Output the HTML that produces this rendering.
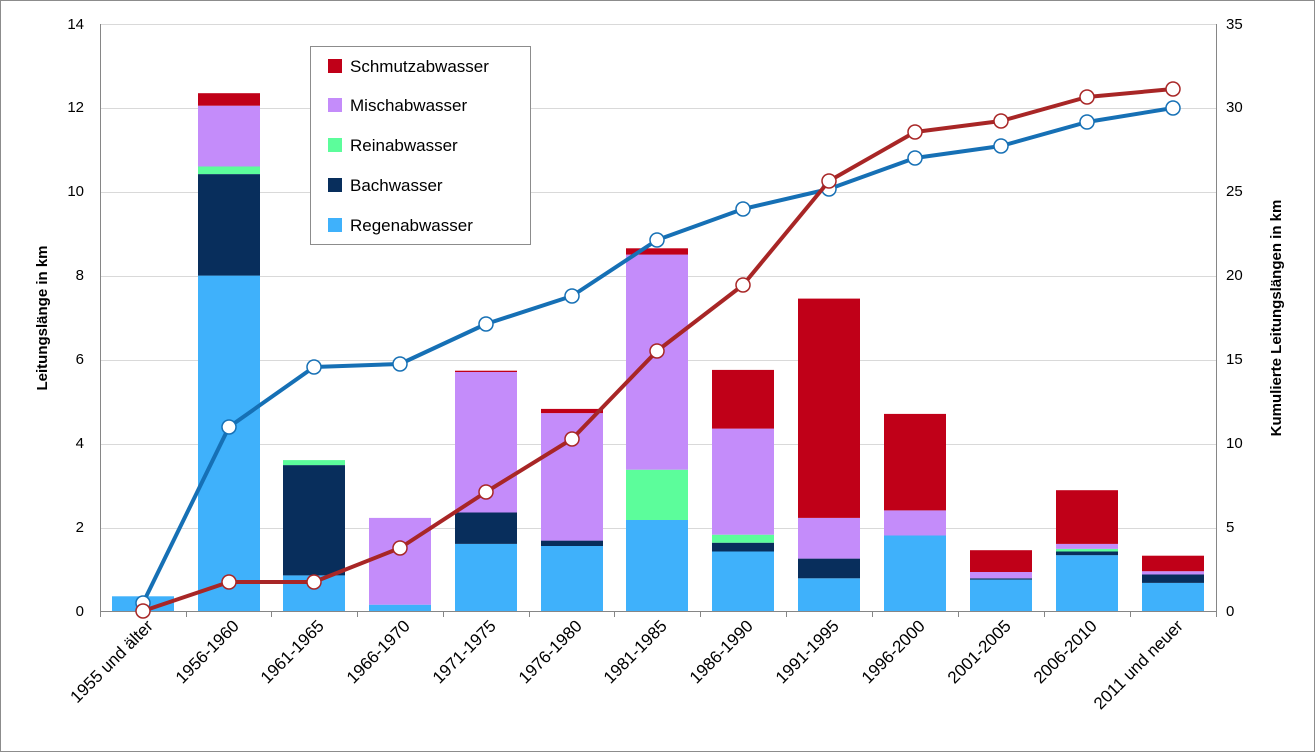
<!DOCTYPE html>
<html><head><meta charset="utf-8"><style>
html,body{margin:0;padding:0;background:#fff}
svg{display:block;font-family:"Liberation Sans",Arial,sans-serif}
</style></head><body>
<svg width="1315" height="752" viewBox="0 0 1315 752" xmlns="http://www.w3.org/2000/svg">
<rect x="0.5" y="0.5" width="1314" height="751" fill="#fff" stroke="#8c8c8c"/>
<g stroke="#d9d9d9" stroke-width="1">
<line x1="100" x2="1216" y1="24.5" y2="24.5"/>
<line x1="100" x2="1216" y1="108.5" y2="108.5"/>
<line x1="100" x2="1216" y1="192.5" y2="192.5"/>
<line x1="100" x2="1216" y1="276.5" y2="276.5"/>
<line x1="100" x2="1216" y1="360.5" y2="360.5"/>
<line x1="100" x2="1216" y1="444.5" y2="444.5"/>
<line x1="100" x2="1216" y1="528.5" y2="528.5"/>
</g>
<g>
<rect x="112" y="596.3" width="62" height="14.7" fill="#3fb1fb"/>
<rect x="198" y="275.6" width="62" height="335.4" fill="#3fb1fb"/>
<rect x="198" y="174.1" width="62" height="101.5" fill="#082e5c"/>
<rect x="198" y="166.5" width="62" height="7.6" fill="#5cfd9b"/>
<rect x="198" y="105.7" width="62" height="60.8" fill="#c48cfa"/>
<rect x="198" y="93.2" width="62" height="12.5" fill="#c00018"/>
<rect x="283" y="575.4" width="62" height="35.6" fill="#3fb1fb"/>
<rect x="283" y="465.1" width="62" height="110.3" fill="#082e5c"/>
<rect x="283" y="460.1" width="62" height="5" fill="#5cfd9b"/>
<rect x="369" y="604.7" width="62" height="6.3" fill="#3fb1fb"/>
<rect x="369" y="517.9" width="62" height="86.8" fill="#c48cfa"/>
<rect x="455" y="543.9" width="62" height="67.1" fill="#3fb1fb"/>
<rect x="455" y="512.5" width="62" height="31.4" fill="#082e5c"/>
<rect x="455" y="372.0" width="62" height="140.5" fill="#c48cfa"/>
<rect x="455" y="370.7" width="62" height="1.3" fill="#c00018"/>
<rect x="541" y="546.0" width="62" height="65" fill="#3fb1fb"/>
<rect x="541" y="540.6" width="62" height="5.4" fill="#082e5c"/>
<rect x="541" y="413.1" width="62" height="127.5" fill="#c48cfa"/>
<rect x="541" y="408.9" width="62" height="4.2" fill="#c00018"/>
<rect x="626" y="520.0" width="62" height="91" fill="#3fb1fb"/>
<rect x="626" y="469.7" width="62" height="50.3" fill="#5cfd9b"/>
<rect x="626" y="254.6" width="62" height="215.1" fill="#c48cfa"/>
<rect x="626" y="248.3" width="62" height="6.3" fill="#c00018"/>
<rect x="712" y="551.5" width="62" height="59.5" fill="#3fb1fb"/>
<rect x="712" y="542.7" width="62" height="8.8" fill="#082e5c"/>
<rect x="712" y="534.7" width="62" height="8" fill="#5cfd9b"/>
<rect x="712" y="428.6" width="62" height="106.1" fill="#c48cfa"/>
<rect x="712" y="369.9" width="62" height="58.7" fill="#c00018"/>
<rect x="798" y="578.3" width="62" height="32.7" fill="#3fb1fb"/>
<rect x="798" y="558.6" width="62" height="19.7" fill="#082e5c"/>
<rect x="798" y="517.9" width="62" height="40.7" fill="#c48cfa"/>
<rect x="798" y="298.6" width="62" height="219.3" fill="#c00018"/>
<rect x="884" y="535.5" width="62" height="75.5" fill="#3fb1fb"/>
<rect x="884" y="510.4" width="62" height="25.1" fill="#c48cfa"/>
<rect x="884" y="413.9" width="62" height="96.5" fill="#c00018"/>
<rect x="970" y="579.6" width="62" height="31.4" fill="#3fb1fb"/>
<rect x="970" y="578.3" width="62" height="1.3" fill="#082e5c"/>
<rect x="970" y="572.0" width="62" height="6.3" fill="#c48cfa"/>
<rect x="970" y="550.2" width="62" height="21.8" fill="#c00018"/>
<rect x="1056" y="555.2" width="62" height="55.8" fill="#3fb1fb"/>
<rect x="1056" y="551.5" width="62" height="3.7" fill="#082e5c"/>
<rect x="1056" y="548.9" width="62" height="2.6" fill="#5cfd9b"/>
<rect x="1056" y="543.9" width="62" height="5" fill="#c48cfa"/>
<rect x="1056" y="490.2" width="62" height="53.7" fill="#c00018"/>
<rect x="1142" y="582.9" width="62" height="28.1" fill="#3fb1fb"/>
<rect x="1142" y="574.5" width="62" height="8.4" fill="#082e5c"/>
<rect x="1142" y="571.2" width="62" height="3.3" fill="#c48cfa"/>
<rect x="1142" y="555.7" width="62" height="15.5" fill="#c00018"/>
</g>
<g stroke="#868686">
<line x1="100.5" x2="100.5" y1="24" y2="611"/>
<line x1="1216.5" x2="1216.5" y1="24" y2="611"/>
<line x1="100" x2="1216" y1="611.5" y2="611.5"/>
<line x1="100.5" x2="100.5" y1="611" y2="617"/><line x1="186.5" x2="186.5" y1="611" y2="617"/><line x1="271.5" x2="271.5" y1="611" y2="617"/><line x1="357.5" x2="357.5" y1="611" y2="617"/><line x1="443.5" x2="443.5" y1="611" y2="617"/><line x1="529.5" x2="529.5" y1="611" y2="617"/><line x1="614.5" x2="614.5" y1="611" y2="617"/><line x1="700.5" x2="700.5" y1="611" y2="617"/><line x1="786.5" x2="786.5" y1="611" y2="617"/><line x1="872.5" x2="872.5" y1="611" y2="617"/><line x1="958.5" x2="958.5" y1="611" y2="617"/><line x1="1044.5" x2="1044.5" y1="611" y2="617"/><line x1="1130.5" x2="1130.5" y1="611" y2="617"/><line x1="1216.5" x2="1216.5" y1="611" y2="617"/>
</g>
<g font-size="15" fill="#000" text-anchor="end">
<text x="84" y="616">0</text><text x="84" y="532">2</text><text x="84" y="448">4</text><text x="84" y="364">6</text><text x="84" y="280">8</text><text x="84" y="196">10</text><text x="84" y="112">12</text><text x="84" y="29">14</text>
</g>
<g font-size="15" fill="#000" text-anchor="start">
<text x="1226" y="616">0</text><text x="1226" y="532">5</text><text x="1226" y="448">10</text><text x="1226" y="364">15</text><text x="1226" y="280">20</text><text x="1226" y="196">25</text><text x="1226" y="112">30</text><text x="1226" y="29">35</text>
</g>
<text transform="translate(47,318) rotate(-90)" font-size="15" font-weight="bold" text-anchor="middle">Leitungslänge in km</text>
<text transform="translate(1281,318) rotate(-90)" font-size="15" font-weight="bold" text-anchor="middle">Kumulierte Leitungslängen in km</text>
<g font-size="17" text-anchor="end">
<text transform="translate(154,627) rotate(-45)">1955 und älter</text>
<text transform="translate(240,627) rotate(-45)">1956-1960</text>
<text transform="translate(325,627) rotate(-45)">1961-1965</text>
<text transform="translate(411,627) rotate(-45)">1966-1970</text>
<text transform="translate(497,627) rotate(-45)">1971-1975</text>
<text transform="translate(583,627) rotate(-45)">1976-1980</text>
<text transform="translate(668,627) rotate(-45)">1981-1985</text>
<text transform="translate(754,627) rotate(-45)">1986-1990</text>
<text transform="translate(840,627) rotate(-45)">1991-1995</text>
<text transform="translate(926,627) rotate(-45)">1996-2000</text>
<text transform="translate(1012,627) rotate(-45)">2001-2005</text>
<text transform="translate(1098,627) rotate(-45)">2006-2010</text>
<text transform="translate(1184,627) rotate(-45)">2011 und neuer</text>
</g>
<polyline points="143,603 229,427 314,367 400,364 486,324 572,296 657,240 743,209 829,189 915,158 1001,146 1087,122 1173,108" fill="none" stroke="#1670b5" stroke-width="4" stroke-linejoin="round"/>
<g fill="#fff" stroke="#1670b5" stroke-width="1.5">
<circle cx="143" cy="603" r="7"/><circle cx="229" cy="427" r="7"/><circle cx="314" cy="367" r="7"/><circle cx="400" cy="364" r="7"/><circle cx="486" cy="324" r="7"/><circle cx="572" cy="296" r="7"/><circle cx="657" cy="240" r="7"/><circle cx="743" cy="209" r="7"/><circle cx="829" cy="189" r="7"/><circle cx="915" cy="158" r="7"/><circle cx="1001" cy="146" r="7"/><circle cx="1087" cy="122" r="7"/><circle cx="1173" cy="108" r="7"/>
</g>
<polyline points="143,611 229,582 314,582 400,548 486,492 572,439 657,351 743,285 829,181 915,132 1001,121 1087,97 1173,89" fill="none" stroke="#a82626" stroke-width="4" stroke-linejoin="round"/>
<g fill="#fff" stroke="#a82626" stroke-width="1.5">
<circle cx="143" cy="611" r="7"/><circle cx="229" cy="582" r="7"/><circle cx="314" cy="582" r="7"/><circle cx="400" cy="548" r="7"/><circle cx="486" cy="492" r="7"/><circle cx="572" cy="439" r="7"/><circle cx="657" cy="351" r="7"/><circle cx="743" cy="285" r="7"/><circle cx="829" cy="181" r="7"/><circle cx="915" cy="132" r="7"/><circle cx="1001" cy="121" r="7"/><circle cx="1087" cy="97" r="7"/><circle cx="1173" cy="89" r="7"/>
</g>
<rect x="310.5" y="46.5" width="220" height="198" fill="#fff" stroke="#8c8c8c"/>
<g font-size="17">
<rect x="328" y="59" width="14" height="14" fill="#c00018"/><text x="350" y="72">Schmutzabwasser</text>
<rect x="328" y="98" width="14" height="14" fill="#c48cfa"/><text x="350" y="111">Mischabwasser</text>
<rect x="328" y="138" width="14" height="14" fill="#5cfd9b"/><text x="350" y="151">Reinabwasser</text>
<rect x="328" y="178" width="14" height="14" fill="#082e5c"/><text x="350" y="191">Bachwasser</text>
<rect x="328" y="218" width="14" height="14" fill="#3fb1fb"/><text x="350" y="231">Regenabwasser</text>
</g>
</svg>
</body></html>
